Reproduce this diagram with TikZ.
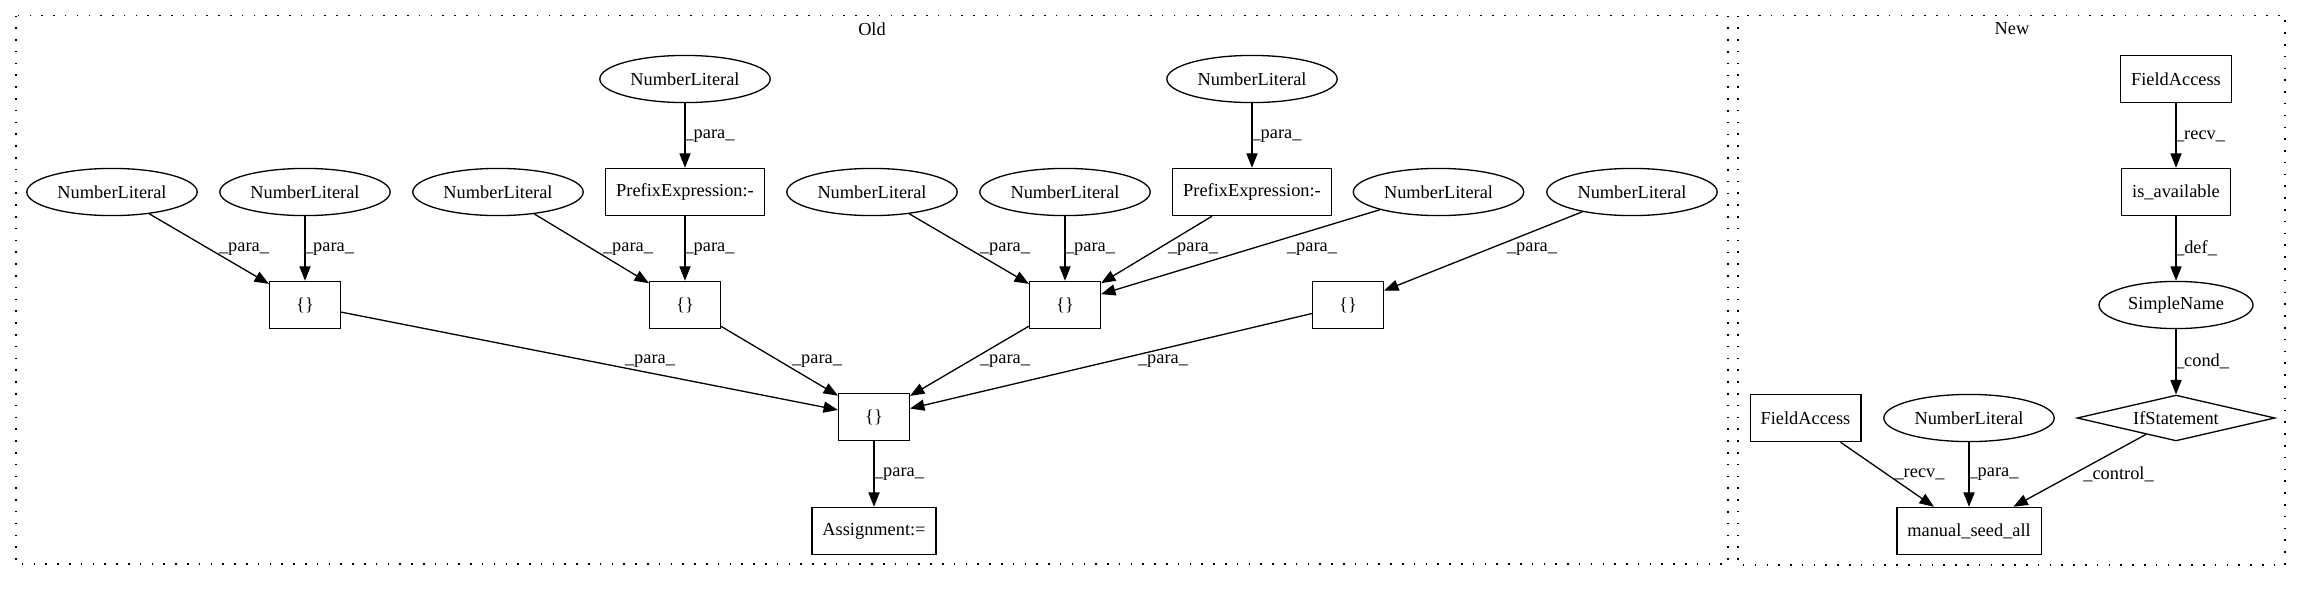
\documentclass[tikz,border=0pt]{standalone}
\usepackage{fontspec}
\setmainfont{Liberation Serif}
\usetikzlibrary{arrows.meta,shapes.geometric}

\tikzset{
  astbox/.style={draw, rectangle, line width=1pt, minimum width=54pt, minimum height=36pt, inner xsep=8pt, inner ysep=0pt},
  astlit/.style={draw, ellipse, line width=1pt, minimum width=130pt, minimum height=36pt, inner xsep=3pt, inner ysep=0pt},
  astcond/.style={draw, diamond, line width=1pt, aspect=4.3, minimum width=151pt, minimum height=35pt, inner sep=0pt},
  edgelbl/.style={inner sep=0pt},
  astedge/.style={line width=1pt, -{Triangle[length=11pt,width=8.5pt]}},
  cluster/.style={line width=1pt, dash pattern=on 1.2pt off 7.8pt}
}

\begin{document}
\begin{tikzpicture}[x=0.763pt, y=-0.763pt, font=\fontsize{14}{16}\selectfont]
  \useasboundingbox (0,0) rectangle (2301,596);

  % Clusters
  \draw[cluster] (16,15.5) rectangle (1728,564);
  \draw[cluster] (1738,15.5) rectangle (2285,565);
  \node (oldTitle) at (872,29) {Old};
  \node (newTitle) at (2012,29) {New};

  % Old: literals
  \node[astlit] (nlTopA) at (685,79) {NumberLiteral};
  \node[astlit] (nlTopB) at (1252,79) {NumberLiteral};
  \foreach \n/\x in {nlA/112, nlB/305, nlC/498, nlD/872, nlE/1065, nlF/1438.5, nlG/1632}
    \node[astlit] (\n) at (\x,192) {NumberLiteral};
  \node[astbox] (prefA) at (685,192) {PrefixExpression:-};
  \node[astbox] (prefB) at (1252,192) {PrefixExpression:-};

  % Old: braces
  \foreach \n/\x in {brA/305, brB/685, brC/1065, brD/1348}
    \node[astbox] (\n) at (\x,305) {\{\}};
  \node[astbox] (brMain) at (874,417) {\{\}};
  \node[astbox] (assign) at (874,531) {Assignment:=};

  % Old: edges
  \foreach \src/\dst in {nlTopA/prefA, nlTopB/prefB, nlA/brA, nlB/brA, nlC/brB, prefA/brB,
      nlD/brC, nlE/brC, prefB/brC, nlF/brC, nlG/brD,
      brA/brMain, brB/brMain, brC/brMain, brD/brMain, brMain/assign}
    \draw[astedge] (\src) -- (\dst);

  % Old: edge labels
  \foreach \x/\y [count=\i] in {709.5/136, 1276.5/136, 244/249, 329/249, 628/249, 709.5/249,
      1005/249, 1090/249, 1193/249, 1312/249, 1532/249,
      650/361, 817/361, 1005/361, 1163/361, 899/474}
    \node[edgelbl] (paraLbl\i) at (\x,\y) {\_para\_};

  % New
  \node[astbox] (faTop) at (2176,79) {FieldAccess};
  \node[astbox] (isAvail) at (2176,192) {is\_available};
  \node[astlit, minimum width=117.5pt] (simpleName) at (2176,305) {SimpleName};
  \node[astcond] (ifStmt) at (2176,418) {IfStatement};
  \node[astbox] (faBot) at (1805.5,418) {FieldAccess};
  \node[astlit] (nlNew) at (1969,418) {NumberLiteral};
  \node[astbox] (seedAll) at (1969,531) {manual\_seed\_all};

  \draw[astedge] (faTop) -- (isAvail);
  \draw[astedge] (isAvail) -- (simpleName);
  \draw[astedge] (simpleName) -- (ifStmt);
  \draw[astedge] (faBot) -- (seedAll);
  \draw[astedge] (nlNew) -- (seedAll);
  \draw[astedge] (ifStmt) -- (seedAll);

  \node[edgelbl] (recvLbl) at (2200,136) {\_recv\_};
  \node[edgelbl] (defLbl) at (2196,248) {\_def\_};
  \node[edgelbl] (condLbl) at (2202,361) {\_cond\_};
  \node[edgelbl] (recvLblB) at (1919.5,474) {\_recv\_};
  \node[edgelbl] (paraLblNew) at (1993.5,474) {\_para\_};
  \node[edgelbl] (controlLbl) at (2118.5,474) {\_control\_};
\end{tikzpicture}
\end{document}
